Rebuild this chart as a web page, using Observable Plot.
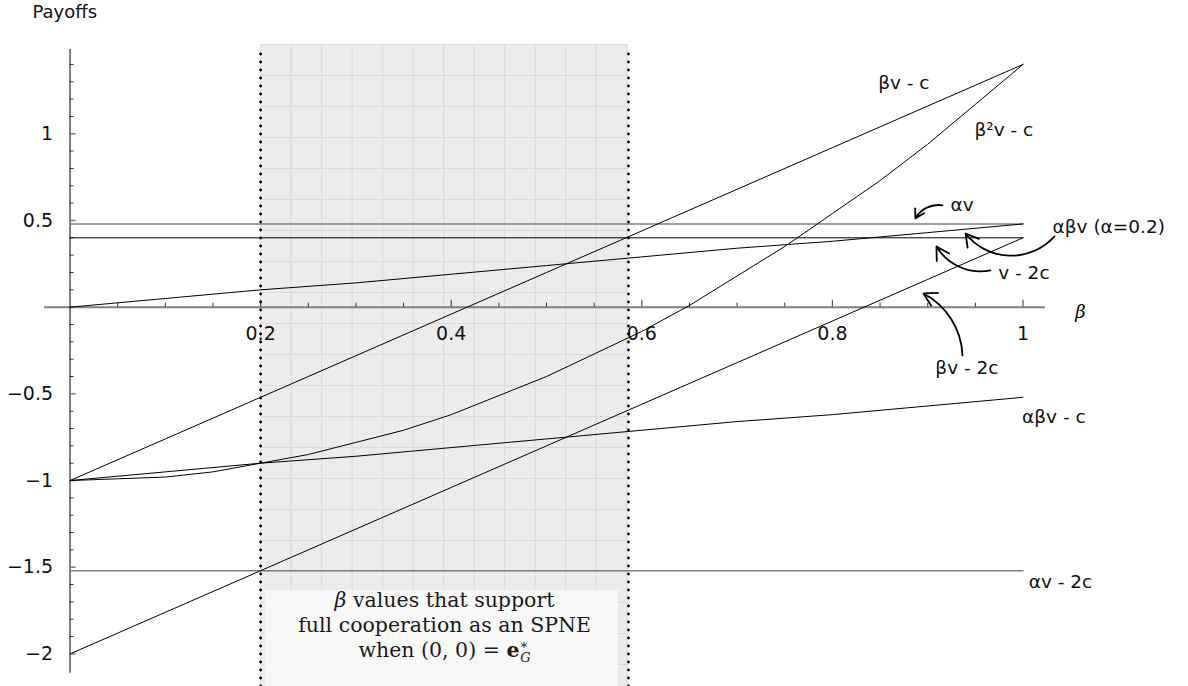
<!DOCTYPE html>
<html><head><meta charset="utf-8">
<script src="https://cdn.jsdelivr.net/npm/d3@7"></script>
<script src="https://cdn.jsdelivr.net/npm/@observablehq/plot@0.6"></script>
<style>html,body{margin:0;padding:0;background:#fff;} svg{display:block;}</style>
</head><body><div id="chart"></div>
<script>
// ---- data ----
const beta = [0, 0.1, 0.2, 0.3, 0.4, 0.5, 0.6, 0.7, 0.8, 0.9, 1];
const betaFine = [0, 0.05, 0.1, 0.15, 0.2, 0.25, 0.3, 0.35, 0.4, 0.45, 0.5, 0.55, 0.6, 0.65, 0.7, 0.75, 0.8, 0.85, 0.9, 0.95, 1];
const bvMinusC   = [-1.00, -0.76, -0.52, -0.28, -0.04, 0.20, 0.44, 0.68, 0.92, 1.16, 1.40];
const b2vMinusC  = [-1.00, -0.99, -0.98, -0.95, -0.90, -0.85, -0.78, -0.71, -0.62, -0.51, -0.40, -0.27, -0.14, 0.01, 0.18, 0.35, 0.54, 0.73, 0.94, 1.17, 1.40];
const bvMinus2c  = [-2.00, -1.76, -1.52, -1.28, -1.04, -0.80, -0.56, -0.32, -0.08, 0.16, 0.40];
const abv        = [0.00, 0.05, 0.10, 0.14, 0.19, 0.24, 0.29, 0.34, 0.38, 0.43, 0.48];
const abvMinusC  = [-1.00, -0.95, -0.90, -0.86, -0.81, -0.76, -0.71, -0.66, -0.62, -0.57, -0.52];
const flatNames  = ["αv", "v - 2c", "αv - 2c"];
const flatValues = [0.48, 0.40, -1.52];
const flatSpan   = [0, 1];
const xMinorTicks = [0.05,0.1,0.15,0.25,0.3,0.35,0.45,0.5,0.55,0.65,0.7,0.75,0.85,0.9,0.95];
const xMajorTicks = [0.2, 0.4, 0.6, 0.8, 1];
const yMinorTicks = [1.4,1.3,1.2,1.1,0.9,0.8,0.7,0.6,0.4,0.3,0.2,0.1,-0.1,-0.2,-0.3,-0.4,-0.6,-0.7,-0.8,-0.9,-1.1,-1.2,-1.3,-1.4,-1.6,-1.7,-1.8,-1.9];
const yMajorTicks = [1, 0.5, -0.5, -1, -1.5, -2];
const bandFrom = 0.2, bandTo = 0.586;
const curveLabels = ["βv - c", "β²v - c", "αv", "αβv (α=0.2)", "v - 2c", "βv - 2c", "αβv - c", "αv - 2c"];
const boxLines = ["β values that support", "full cooperation as an SPNE", "when (0, 0) = e*G"];

// ---- layout (not data) ----
const xDomain = [-0.0268, 1.0236], xRange = [44, 1045];
const yDomain = [-2.188, 1.515], yRange = [686, 44];
const kx = (xRange[1]-xRange[0])/(xDomain[1]-xDomain[0]);
const ky = (yRange[0]-yRange[1])/(yDomain[1]-yDomain[0]);
const px = n => n / kx, py = n => n / ky;
const labelPos = [[0.848,1.295],[0.949,1.019],[0.924,0.587],[1.031,0.46],[0.974,0.194],[0.908,-0.353],[0.999,-0.636],[1.006,-1.588]];
const boxLineY = [-1.692, -1.836, -1.98];

const rows = (xs, ys) => xs.map((b, i) => ({b, v: ys[i]}));
const flats = flatNames.map((n, i) => flatSpan.map(b => ({n, b, v: flatValues[i]}))).flat();
const fmt = v => (v < 0 ? "\u2212" : "") + Math.abs(v);
const labelsData = curveLabels.map((t, i) => ({t, x: labelPos[i][0], y: labelPos[i][1]}));
const boxData = boxLines.map((t, i) => ({t, y: boxLineY[i]}));

const arrowStyle = {stroke: "black", strokeWidth: 1.8, headLength: 12};

const svg = Plot.plot({
  width: 1188, height: 686, margin: 0,
  style: {fontFamily: "DejaVu Sans", background: "white", overflow: "visible"},
  x: {domain: xDomain, range: xRange, axis: null},
  y: {domain: yDomain, range: yRange, axis: null},
  marks: [
    Plot.rect([{}], {x1: bandFrom, x2: bandTo, y1: yDomain[0], y2: yDomain[1], fill: "url(#shadeGrid)"}),
    Plot.rect([{}], {x1: bandFrom + px(5), x2: bandTo - px(10), y1: yDomain[0], y2: -1.634, fill: "#f8f8f8"}),
    // x axis
    Plot.ruleY([0], {x1: xDomain[0], x2: xDomain[1], stroke: "#808080", strokeWidth: 2}),
    Plot.ruleX(xMinorTicks, {y1: 0, y2: py(4), stroke: "#333", strokeWidth: 1}),
    Plot.ruleX(xMajorTicks, {y1: 0, y2: py(7), stroke: "#555", strokeWidth: 1.2}),
    Plot.text(xMajorTicks, {x: d => d, y: 0, dy: 27, text: fmt, fontSize: 19, fill: "#111"}),
    // y axis
    Plot.ruleX([0], {y1: -2.112, y2: 1.486, stroke: "black", strokeWidth: 1}),
    Plot.ruleY(yMinorTicks, {x1: 0, x2: px(4), stroke: "#333", strokeWidth: 1}),
    Plot.ruleY(yMajorTicks, {x1: 0, x2: px(6), stroke: "#777", strokeWidth: 1.5}),
    Plot.text(yMajorTicks, {x: 0, y: d => d, dx: -17, text: fmt, textAnchor: "end", fontSize: 19, fill: "#111"}),
    // horizontal levels
    Plot.line(flats.filter(d => d.n !== "v - 2c"), {x: "b", y: "v", z: "n", stroke: "#808080", strokeWidth: 1.6}),
    Plot.line(flats.filter(d => d.n === "v - 2c"), {x: "b", y: "v", stroke: "black", strokeWidth: 1}),
    // curves
    Plot.line(rows(beta, bvMinusC), {x: "b", y: "v", stroke: "black", strokeWidth: 1}),
    Plot.line(rows(betaFine, b2vMinusC), {x: "b", y: "v", stroke: "black", strokeWidth: 1}),
    Plot.line(rows(beta, bvMinus2c), {x: "b", y: "v", stroke: "black", strokeWidth: 1}),
    Plot.line(rows(beta, abv), {x: "b", y: "v", stroke: "black", strokeWidth: 1}),
    Plot.line(rows(beta, abvMinusC), {x: "b", y: "v", stroke: "black", strokeWidth: 1}),
    // dotted band edges
    Plot.ruleX([bandFrom, bandTo], {y1: yDomain[0], y2: 1.47, stroke: "black", strokeWidth: 2.8, strokeDasharray: "0,8", strokeLinecap: "round"}),
    // labels
    Plot.text(labelsData, {x: "x", y: "y", text: "t", textAnchor: "start", fontSize: 18.5, fill: "#111", letterSpacing: "1.3px"}),
    Plot.text(["β"], {x: 1.0604, y: -0.03, text: d => d, fontFamily: "DejaVu Serif", fontStyle: "italic", fontSize: 18}),
    Plot.text(["Payoffs"], {frameAnchor: "top-left", dx: 32, dy: 5, text: d => d, textAnchor: "start", lineAnchor: "top", fontSize: 18, fill: "#111", letterSpacing: "1.4px"}),
    Plot.text(boxData, {x: (bandFrom + bandTo) / 2, y: "y", text: "t", fontFamily: "DejaVu Serif", fontSize: 20.5, fill: "#1a1a1a", className: "boxtext"}),
    // arrows
    Plot.arrow([{}], {x1: 0.9155, y1: 0.587, x2: 0.887, y2: 0.512, bend: -35, ...arrowStyle}),
    Plot.arrow([{}], {x1: 1.033, y1: 0.408, x2: 0.9397, y2: 0.425, bend: 50, ...arrowStyle}),
    Plot.arrow([{}], {x1: 0.9659, y1: 0.2116, x2: 0.9092, y2: 0.35, bend: 35, ...arrowStyle}),
    Plot.arrow([{}], {x1: 0.9365, y1: -0.2785, x2: 0.8956, y2: 0.079, bend: -30, ...arrowStyle})
  ]
});

// shading grid pattern
const sx = svg.scale("x"), sy = svg.scale("y");
const gx = sx.apply(bandFrom), gy = sy.apply(yDomain[1]);
const defs = d3.select(svg).insert("defs", ":first-child");
const pat = defs.append("pattern").attr("id", "shadeGrid").attr("patternUnits", "userSpaceOnUse")
  .attr("x", gx).attr("y", gy).attr("width", 30.5).attr("height", 31);
pat.append("rect").attr("width", 30.5).attr("height", 31).attr("fill", "#ececec");
pat.append("path").attr("d", "M0,0.5H30.5M0.5,0V31").attr("stroke", "#dadada").attr("stroke-width", 1).attr("fill", "none");

// rich text in box
d3.select(svg).selectAll("g.boxtext text").each(function() {
  const t = d3.select(this);
  const s = t.text();
  if (s.startsWith("β")) {
    t.text(null);
    t.append("tspan").attr("font-style", "italic").text("β");
    t.append("tspan").text(s.slice(1));
  } else if (s.startsWith("when")) {
    t.text(null);
    t.append("tspan").text("when (0, 0) = ");
    t.append("tspan").attr("font-weight", "bold").text("e");
    t.append("tspan").attr("font-size", 13).attr("dy", -8).text("∗");
    t.append("tspan").attr("font-size", 13).attr("font-style", "italic").attr("dx", -8).attr("dy", 13).text("G");
  }
});

document.getElementById("chart").appendChild(svg);
</script>
</body></html>
